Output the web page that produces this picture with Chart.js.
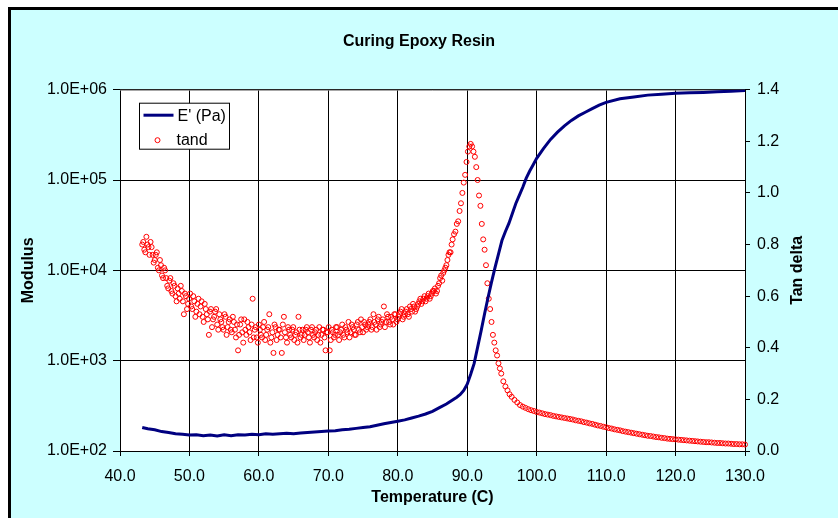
<!DOCTYPE html>
<html>
<head>
<meta charset="utf-8">
<script src="https://cdn.jsdelivr.net/npm/chart.js@4/dist/chart.umd.min.js"></script>
<style>
  html, body { margin: 0; padding: 0; background: #fff; overflow: hidden; }
  #frame { position: absolute; left: 8px; top: 7px; width: 900px; height: 600px;
           background: #ccffff; border-left: 3px solid #000; border-top: 3px solid #000; }
  #wrap { position: absolute; left: 0; top: 0; width: 838px; height: 518px; }
</style>
</head>
<body>
<div id="frame"></div>
<div id="wrap"><canvas id="c" width="838" height="518"></canvas></div>
<script>
// storage modulus E' (Pa) vs temperature (C)
const modTemp = [
  43.2, 44, 45, 46, 47, 48, 49, 50, 51, 52, 53, 54, 55, 56, 57, 58, 59, 60,
  61, 62, 63, 64, 65, 66, 67, 68, 69, 70, 71, 72, 73, 74, 75, 76, 77, 78, 79, 80,
  81, 82, 83, 84, 85, 86, 87, 88, 88.5, 89, 89.5, 90, 90.5, 91, 91.5, 92, 92.5,
  93, 93.5, 94, 94.5, 95, 95.5, 96, 96.5, 97, 97.5, 98, 98.5, 99, 99.5, 100,
  101, 102, 103, 104, 105, 106, 107, 108, 109, 110,
  112, 114, 116, 118, 120, 122, 124, 126, 128, 130
];
const modulus = [
  182, 176, 172, 164, 160, 155, 153, 150, 151, 148, 150, 147, 151, 148, 151, 150, 153, 151,
  155, 153, 155, 157, 155, 158, 160, 162, 164, 166, 168, 172, 174, 178, 182, 186, 193, 200, 207, 214,
  221, 232, 243, 257, 275, 302, 331, 372, 394, 422, 468, 550, 708, 933, 1413, 2138, 3311,
  5012, 7413, 10715, 15136, 21380, 26915, 33113, 42658, 54954, 67608, 83176, 104713, 125893, 147911, 173780,
  223872, 281838, 338844, 398107, 457088, 512861, 562341, 616595, 676083, 724436,
  794328, 831764, 870964, 891251, 912011, 922571, 933254, 948418, 961612, 977237
];

// tan delta vs temperature (C)
const tandTemp = [
  43.2, 43.5, 43.8, 44.1, 44.4, 44.7, 45.0, 45.3, 45.6, 45.9,
  46.2, 46.5, 46.8, 47.1, 47.4, 47.7, 48.0, 48.3, 48.6, 48.9,
  49.2, 49.5, 49.8, 50.1, 50.4, 50.7, 51.0, 51.3, 51.6, 51.9,
  52.2, 52.5, 52.8, 53.1, 53.4, 53.7, 54.0, 54.3, 54.6, 54.9,
  55.2, 55.5, 55.8, 56.1, 56.4, 56.7, 57.0, 57.3, 57.6, 57.9,
  58.2, 58.5, 58.8, 59.1, 59.4, 59.7, 60.0, 60.3, 60.6, 60.9,
  61.2, 61.5, 61.8, 62.1, 62.4, 62.7, 63.0, 63.3, 63.6, 63.9,
  64.2, 64.5, 64.8, 65.1, 65.4, 65.7, 66.0, 66.3, 66.6, 66.9,
  67.2, 67.5, 67.8, 68.1, 68.4, 68.7, 69.0, 69.3, 69.6, 69.9,
  70.2, 70.5, 70.8, 71.1, 71.4, 71.7, 72.0, 72.3, 72.6, 72.9,
  73.2, 73.5, 73.8, 74.1, 74.4, 74.7, 75.0, 75.3, 75.6, 75.9,
  76.2, 76.5, 76.8, 77.1, 77.4, 77.7, 78.0, 78.3, 78.6, 78.9,
  79.2, 79.5, 79.8, 80.1, 80.4, 80.7, 81.0, 81.3, 81.6, 81.9,
  82.2, 82.5, 82.8, 83.1, 83.4, 83.7, 84.0, 84.3, 84.6, 84.9,
  85.2, 85.5, 85.8, 86.1, 86.4, 86.7, 87.0, 87.3, 87.6, 87.9,
  43.35, 43.65, 43.95, 44.25, 44.55, 44.85, 45.15, 45.45, 45.75, 46.05,
  46.35, 46.65, 46.95, 47.25, 47.55, 47.85, 48.15, 48.45, 48.75, 49.05,
  49.35, 49.65, 49.95, 50.25, 50.55, 50.85, 51.15, 51.45, 51.75, 52.05,
  52.35, 52.65, 52.95, 53.25, 53.55, 53.85, 54.15, 54.45, 54.75, 55.05,
  55.35, 55.65, 55.95, 56.25, 56.55, 56.85, 57.15, 57.45, 57.75, 58.05,
  58.35, 58.65, 58.95, 59.25, 59.55, 59.85, 60.15, 60.45, 60.75, 61.05,
  61.35, 61.65, 61.95, 62.25, 62.55, 62.85, 63.15, 63.45, 63.75, 64.05,
  64.35, 64.65, 64.95, 65.25, 65.55, 65.85, 66.15, 66.45, 66.75, 67.05,
  67.35, 67.65, 67.95, 68.25, 68.55, 68.85, 69.15, 69.45, 69.75, 70.05,
  70.35, 70.65, 70.95, 71.25, 71.55, 71.85, 72.15, 72.45, 72.75, 73.05,
  73.35, 73.65, 73.95, 74.25, 74.55, 74.85, 75.15, 75.45, 75.75, 76.05,
  76.35, 76.65, 76.95, 77.25, 77.55, 77.85, 78.15, 78.45, 78.75, 79.05,
  79.35, 79.65, 79.95, 80.25, 80.55, 80.85, 81.15, 81.45, 81.75, 82.05,
  82.35, 82.65, 82.95, 83.25, 83.55, 83.85, 84.15, 84.45, 84.75, 85.05,
  85.35, 85.65, 85.95, 86.25, 86.55, 86.85, 87.15, 87.45, 87.75,
  88.1, 88.3, 88.5, 88.7, 88.9, 89.1, 89.3, 89.5, 89.7, 89.9,
  90.1, 90.3, 90.5, 90.7, 90.9, 91.1, 91.3, 91.5, 91.7, 91.9,
  92.1, 92.3, 92.5, 92.7, 92.9, 93.1, 93.3, 93.5, 93.7, 93.9,
  94.1, 94.3, 94.5, 94.7, 94.9, 95.2, 95.5, 95.8, 96.1, 96.4,
  96.8, 97.2, 97.6, 98.0, 98.4, 98.8, 99.2, 99.6, 100.0, 100.4,
  100.8, 101.2, 101.6, 102.0, 102.4, 102.8, 103.2, 103.6, 104.0, 104.4,
  104.8, 105.2, 105.6, 106.0, 106.4, 106.8, 107.2, 107.6, 108.0, 108.4,
  108.8, 109.2, 109.6, 110.0, 110.4, 110.8, 111.2, 111.6, 112.0, 112.4,
  112.8, 113.2, 113.6, 114.0, 114.4, 114.8, 115.2, 115.6, 116.0, 116.4,
  116.8, 117.2, 117.6, 118.0, 118.4, 118.8, 119.2, 119.6, 120.0, 120.4,
  120.8, 121.2, 121.6, 122.0, 122.4, 122.8, 123.2, 123.6, 124.0, 124.4,
  124.8, 125.2, 125.6, 126.0, 126.4, 126.8, 127.2, 127.6, 128.0, 128.4,
  128.8, 129.2, 129.6, 130.0
];
const tand = [
  0.80, 0.78, 0.83, 0.79, 0.81, 0.76, 0.74, 0.77, 0.70, 0.72,
  0.67, 0.70, 0.64, 0.66, 0.62, 0.65, 0.60, 0.63, 0.59, 0.62,
  0.53, 0.60, 0.57, 0.61, 0.55, 0.58, 0.54, 0.59, 0.56, 0.52,
  0.57, 0.53, 0.45, 0.55, 0.51, 0.54, 0.49, 0.53, 0.50, 0.47,
  0.52, 0.48, 0.51, 0.46, 0.50, 0.44, 0.39, 0.49, 0.46, 0.51,
  0.45, 0.48, 0.43, 0.59, 0.47, 0.44, 0.49, 0.45, 0.48, 0.43,
  0.47, 0.53, 0.44, 0.38, 0.48, 0.45, 0.47, 0.38, 0.52, 0.44,
  0.48, 0.45, 0.47, 0.43, 0.46, 0.52, 0.44, 0.47, 0.45, 0.48,
  0.44, 0.47, 0.45, 0.46, 0.43, 0.48, 0.45, 0.47, 0.39, 0.46,
  0.39, 0.47, 0.44, 0.48, 0.45, 0.46, 0.49, 0.44, 0.47, 0.50,
  0.46, 0.48, 0.45, 0.49, 0.47, 0.51, 0.46, 0.49, 0.48, 0.50,
  0.47, 0.53, 0.49, 0.51, 0.48, 0.50, 0.56, 0.50, 0.52, 0.49,
  0.51, 0.53, 0.50, 0.52, 0.54, 0.51, 0.53, 0.55, 0.52, 0.55,
  0.57, 0.54, 0.56, 0.58, 0.57, 0.59, 0.58, 0.60, 0.59, 0.61,
  0.62, 0.61, 0.64, 0.67, 0.66, 0.70, 0.72, 0.76, 0.77, 0.82,
  0.81, 0.77, 0.80, 0.76, 0.79, 0.73, 0.76, 0.71, 0.74, 0.68,
  0.71, 0.67, 0.63, 0.67, 0.61, 0.64, 0.58, 0.61, 0.64, 0.58,
  0.61, 0.55, 0.59, 0.56, 0.60, 0.52, 0.57, 0.53, 0.58, 0.50,
  0.55, 0.51, 0.54, 0.48, 0.52, 0.55, 0.47, 0.51, 0.48, 0.53,
  0.45, 0.50, 0.47, 0.52, 0.47, 0.49, 0.45, 0.51, 0.42, 0.47,
  0.50, 0.46, 0.49, 0.44, 0.48, 0.42, 0.47, 0.44, 0.50, 0.45,
  0.48, 0.42, 0.46, 0.49, 0.43, 0.47, 0.44, 0.49, 0.46, 0.42,
  0.47, 0.44, 0.48, 0.45, 0.42, 0.47, 0.45, 0.43, 0.47, 0.46,
  0.42, 0.48, 0.44, 0.47, 0.45, 0.42, 0.47, 0.44, 0.46, 0.48,
  0.43, 0.46, 0.45, 0.48, 0.43, 0.47, 0.45, 0.48, 0.46, 0.44,
  0.49, 0.47, 0.45, 0.50, 0.46, 0.48, 0.50, 0.47, 0.49, 0.51,
  0.48, 0.50, 0.47, 0.52, 0.49, 0.51, 0.48, 0.53, 0.50, 0.52,
  0.49, 0.53, 0.51, 0.53, 0.55, 0.52, 0.54, 0.53, 0.56, 0.54,
  0.56, 0.55, 0.57, 0.59, 0.58, 0.60, 0.59, 0.61, 0.60, 0.62,
  0.63, 0.62, 0.65, 0.68, 0.69, 0.71, 0.74, 0.77, 0.80,
  0.84, 0.85, 0.88, 0.89, 0.93, 0.96, 1.00, 1.04, 1.07, 1.12,
  1.16, 1.18, 1.19, 1.18, 1.16, 1.14, 1.10, 1.05, 0.99, 0.95,
  0.88, 0.82, 0.78, 0.72, 0.65, 0.59, 0.55, 0.50, 0.45, 0.42,
  0.39, 0.37, 0.34, 0.32, 0.30, 0.27, 0.25, 0.235, 0.22, 0.21,
  0.198, 0.188, 0.178, 0.172, 0.167, 0.162, 0.158, 0.155, 0.151, 0.149,
  0.146, 0.143, 0.141, 0.139, 0.136, 0.134, 0.132, 0.130, 0.128, 0.126,
  0.124, 0.122, 0.119, 0.117, 0.115, 0.112, 0.110, 0.107, 0.105, 0.102,
  0.099, 0.097, 0.094, 0.092, 0.089, 0.087, 0.084, 0.082, 0.080, 0.077,
  0.075, 0.073, 0.071, 0.069, 0.067, 0.065, 0.063, 0.061, 0.059, 0.058,
  0.056, 0.054, 0.053, 0.051, 0.050, 0.048, 0.047, 0.046, 0.045, 0.044,
  0.043, 0.042, 0.041, 0.040, 0.039, 0.038, 0.037, 0.036, 0.035, 0.034,
  0.034, 0.033, 0.032, 0.031, 0.031, 0.030, 0.029, 0.029, 0.028, 0.027,
  0.027, 0.026, 0.026, 0.025
];

// axis ticks
const tempTicks = [40, 50, 60, 70, 80, 90, 100, 110, 120, 130];
const modTicks = [1e2, 1e3, 1e4, 1e5, 1e6];
const tandTicks = [0, 0.2, 0.4, 0.6, 0.8, 1.0, 1.2, 1.4];

const FONT = '"Liberation Sans", Arial, sans-serif';
Chart.defaults.font.family = FONT;
Chart.defaults.font.size = 16;
Chart.defaults.color = '#000';

const setTicks = list => scale => { scale.ticks = list.map(v => ({ value: v })); };

// white plot area, grey top edge, legend box and right axis title
const extras = {
  id: 'extras',
  beforeDraw(chart) {
    const a = chart.chartArea, c = chart.ctx;
    c.save();
    c.fillStyle = '#fff';
    c.fillRect(a.left, a.top, a.right - a.left, a.bottom - a.top);
    c.restore();
  },
  beforeDatasetsDraw(chart) {
    const a = chart.chartArea, c = chart.ctx;
    c.save();
    c.strokeStyle = '#808080';
    c.lineWidth = 1;
    c.beginPath();
    c.moveTo(a.left, a.top + 0.5);
    c.lineTo(a.right, a.top + 0.5);
    c.stroke();
    c.restore();
  },
  afterDraw(chart) {
    const a = chart.chartArea, c = chart.ctx;
    const ds = chart.data.datasets;
    c.save();
    // legend
    const bx = a.left + 19.5, by = a.top + 13.5;
    c.fillStyle = '#fff';
    c.fillRect(bx, by, 90, 46);
    c.strokeStyle = '#000';
    c.lineWidth = 1;
    c.strokeRect(bx, by, 90, 46);
    c.strokeStyle = ds[0].borderColor;
    c.lineWidth = 3;
    c.beginPath();
    c.moveTo(bx + 4, by + 12);
    c.lineTo(bx + 34, by + 12);
    c.stroke();
    c.strokeStyle = ds[1].borderColor;
    c.lineWidth = 1;
    c.beginPath();
    c.arc(bx + 18, by + 37, 2.5, 0, Math.PI * 2);
    c.stroke();
    c.fillStyle = '#000';
    c.font = '16px ' + FONT;
    c.textBaseline = 'middle';
    c.textAlign = 'left';
    c.fillText(ds[0].label, bx + 38, by + 13);
    c.fillText(ds[1].label, bx + 37, by + 37);
    // right axis title, reading upwards
    c.font = 'bold 16px ' + FONT;
    c.textAlign = 'center';
    c.translate(798, (a.top + a.bottom) / 2);
    c.rotate(-Math.PI / 2);
    c.fillText('Tan delta', 0, 0);
    c.restore();
  }
};

new Chart(document.getElementById('c'), {
  type: 'scatter',
  data: {
    datasets: [
      {
        label: "E' (Pa)",
        data: modTemp.map((t, i) => ({ x: t, y: modulus[i] })),
        yAxisID: 'y',
        showLine: true,
        borderColor: '#000080',
        backgroundColor: '#000080',
        borderWidth: 3,
        pointRadius: 0,
        pointHoverRadius: 0,
        tension: 0
      },
      {
        label: 'tand',
        data: tandTemp.map((t, i) => ({ x: t, y: tand[i] })),
        yAxisID: 'y2',
        showLine: false,
        pointStyle: 'circle',
        pointRadius: 2.5,
        borderWidth: 1,
        borderColor: '#ff0000',
        backgroundColor: 'rgba(0,0,0,0)',
        clip: false
      }
    ]
  },
  options: {
    responsive: false,
    animation: false,
    layout: { padding: 0 },
    plugins: {
      legend: { display: false },
      tooltip: { enabled: false },
      title: {
        display: true,
        text: 'Curing Epoxy Resin',
        color: '#000',
        font: { size: 16, weight: 'bold' },
        padding: { top: 32, bottom: 38.5 }
      }
    },
    scales: {
      x: {
        type: 'linear',
        position: 'bottom',
        min: 40,
        max: 130,
        afterBuildTicks: setTicks(tempTicks),
        afterFit: s => { s.height = 67; },
        ticks: { callback: v => v.toFixed(1), padding: 11, maxRotation: 0, autoSkip: false },
        grid: { color: '#000', tickLength: 5 },
        border: { color: '#000' },
        title: { display: true, text: 'Temperature (C)', font: { size: 16, weight: 'bold' }, padding: { top: 0, bottom: 11 } }
      },
      y: {
        type: 'logarithmic',
        position: 'left',
        min: 100,
        max: 1e6,
        afterBuildTicks: setTicks(modTicks),
        afterFit: s => { s.width = 120; },
        ticks: {
          padding: 6,
          callback: v => {
            const e = Math.round(Math.log10(v));
            return '1.0E+' + (e < 10 ? '0' : '') + e;
          }
        },
        grid: { color: '#000', tickLength: 7 },
        border: { color: '#000' },
        title: { display: true, text: 'Modulus', font: { size: 16, weight: 'bold' }, padding: { top: 19, bottom: 0 } }
      },
      y2: {
        type: 'linear',
        position: 'right',
        min: 0,
        max: 1.4,
        afterBuildTicks: setTicks(tandTicks),
        afterFit: s => { s.width = 93; },
        ticks: { callback: v => v.toFixed(1), padding: 7 },
        grid: { drawOnChartArea: false, color: '#000', tickLength: 5 },
        border: { color: '#000' }
      }
    }
  },
  plugins: [extras]
});
</script>
</body>
</html>
